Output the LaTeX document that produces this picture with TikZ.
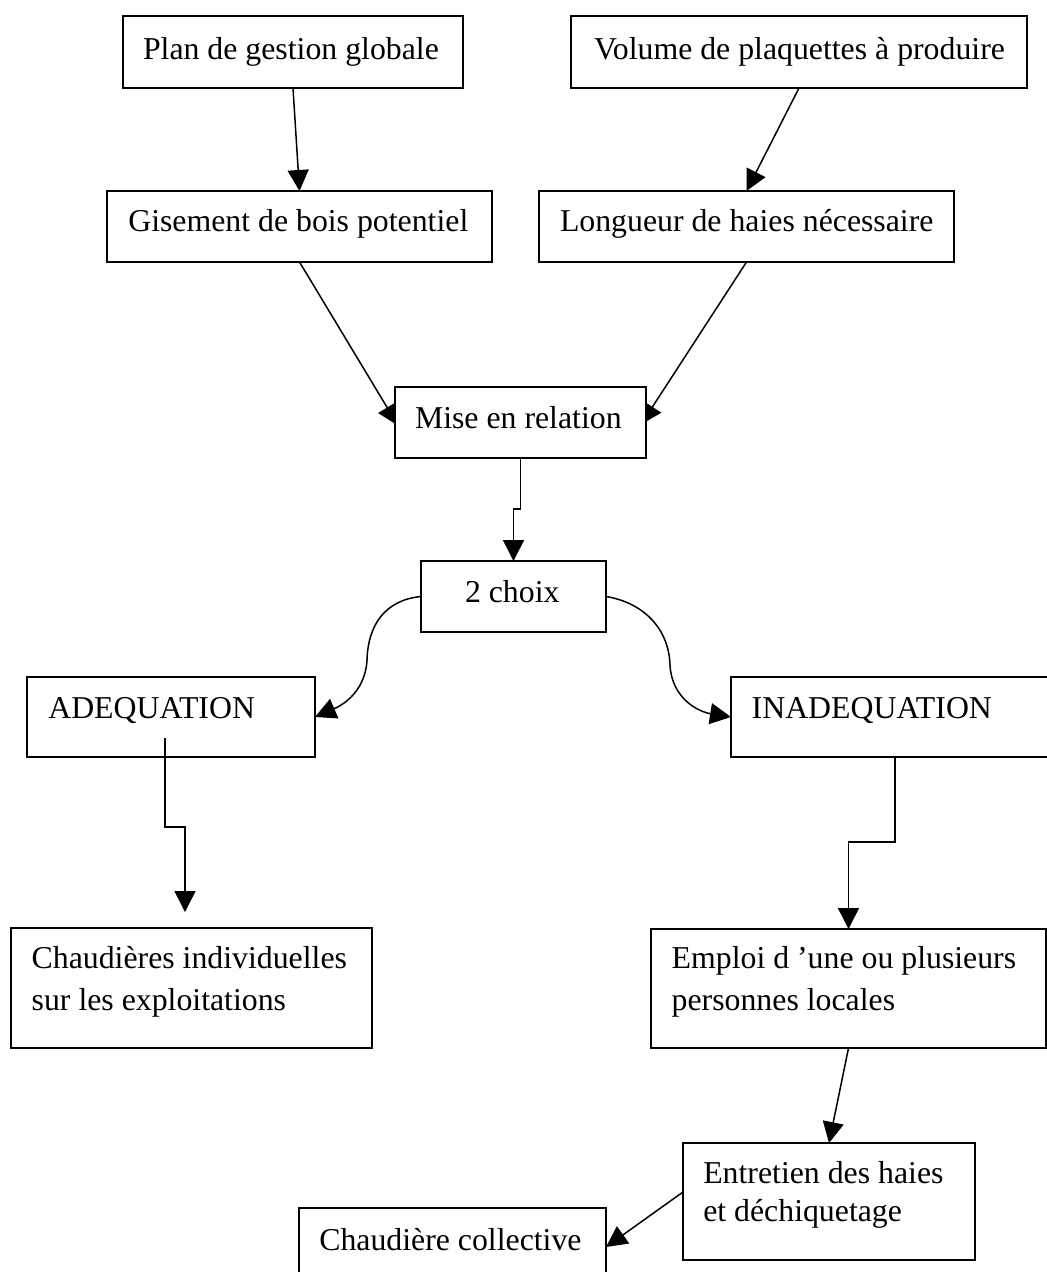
\documentclass[tikz,border=0pt]{standalone}
\usepackage{fontspec}
\setmainfont{Liberation Serif}
\usetikzlibrary{arrows.meta,calc,backgrounds}

\begin{document}
\begin{tikzpicture}[x=1pt,y=-1pt,
  box/.style={draw=black,fill=white,line width=1.8pt,rectangle,inner sep=0pt,outer sep=0pt},
  txt/.style={anchor=base west,inner sep=0pt,outer sep=0pt,font=\fontsize{31.8}{41}\selectfont},
  conn/.style={draw=black,line width=1.5pt,-{Triangle[length=21pt,width=21pt]}}]

\useasboundingbox (0,0) rectangle (1047,1272);

% boxes
\node[box,minimum width=340pt,minimum height=72pt] (plan)   at (293,52) {};
\node[box,minimum width=385pt,minimum height=71pt] (gis)    at (299.5,226.5) {};
\node[box,minimum width=456pt,minimum height=72pt] (vol)    at (799,52) {};
\node[box,minimum width=415pt,minimum height=71pt] (long)   at (746.5,226.5) {};
\node[box,minimum width=251pt,minimum height=71pt] (mise)   at (520.5,422.5) {};
\node[box,minimum width=185pt,minimum height=71pt] (choix)  at (513.5,596.5) {};
\node[box,minimum width=288pt,minimum height=80pt] (adeq)   at (171,717) {};
\node[box,minimum width=329pt,minimum height=80pt] (inad)   at (895.5,717) {};
\node[box,minimum width=361pt,minimum height=120pt] (indiv) at (191.5,988) {};
\node[box,minimum width=395pt,minimum height=119pt] (emploi) at (848.5,988.5) {};
\node[box,minimum width=292pt,minimum height=117pt] (entr)  at (829,1201.5) {};
\node[box,minimum width=307pt,minimum height=78pt] (coll)   at (452.5,1247) {};

% texts
\node[txt] (tplan)  at (143,59.3)   {Plan de gestion globale};
\node[txt] (tgis)   at (128.3,231.7) {Gisement de bois potentiel};
\node[txt] (tvol)   at (594,59.3)   {Volume de plaquettes à produire};
\node[txt] (tlong)  at (560,231.7)  {Longueur de haies nécessaire};
\node[txt] (tmise)  at (415,428.3)  {Mise en relation};
\node[txt] (tchoix) at (465,602.3)  {2 choix};
\node[txt] (tadeq)  at (48.3,718)   {ADEQUATION};
\node[txt] (tinad)  at (751.7,718.3) {INADEQUATION};
\node[txt] (tind1)  at (31.7,968.3) {Chaudières individuelles};
\node[txt] (tind2)  at (31.7,1010)  {sur les exploitations};
\node[txt] (temp1)  at (671.7,968)  {Emploi d ’une ou plusieurs};
\node[txt] (temp2)  at (671.7,1010) {personnes locales};
\node[txt] (tent1)  at (703.3,1183.3) {Entretien des haies};
\node[txt] (tent2)  at (703.3,1221.7) {et déchiquetage};
\node[txt] (tcoll)  at (319.3,1250) {Chaudière collective};

% connectors
\draw[conn] (plan.south) -- (gis.north);
\draw[conn] (vol.south) -- (long.north);

\begin{scope}[on background layer]
  \coordinate (misein1) at ($(mise.west)+(3,3)$);
  \coordinate (misein2) at ($(mise.east)+(-5,2)$);
  \draw[conn] (gis.south) -- (misein1);
  \draw[conn] (long.south) -- (misein2);
\end{scope}

\draw[conn] (mise.south) -- ++(0,51) -| (choix.north);

\draw[conn] (choix.west) .. controls (385,600) and (368,625) .. (367,660)
  .. controls (365,695) and (338,707) .. (adeq.east);
\draw[conn] (choix.east) .. controls (645,603) and (669,630) .. (670,665)
  .. controls (672,700) and (700,712) .. (inad.west);

\coordinate (adeqout) at (165,738);
\coordinate (indivin) at (185,912);
\draw[conn] (adeqout) -- ++(0,89) -| (indivin);

\coordinate (inadout) at (895,756);
\draw[conn] (inadout) -- ++(0,86) -| (emploi.north);

\draw[conn] (emploi.south) -- (entr.north);

\coordinate (entrout) at ($(entr.west)+(0,-9.5)$);
\draw[conn] (entrout) -- (coll.east);

\end{tikzpicture}
\end{document}
